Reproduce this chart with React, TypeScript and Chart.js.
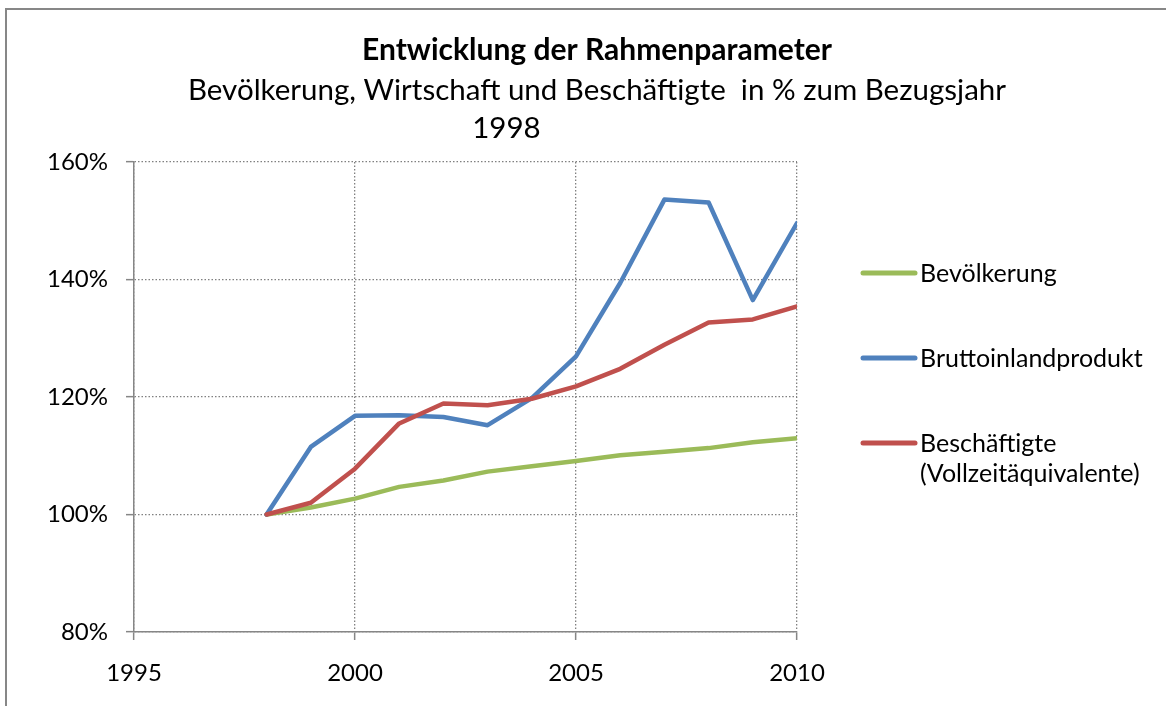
import { useEffect, useRef } from "react";
import { Chart, registerables } from "chart.js";

Chart.register(...registerables);

const FONT = "Lato";

const years = [1998, 1999, 2000, 2001, 2002, 2003, 2004, 2005, 2006, 2007, 2008, 2009, 2010];
const bevoelkerung = [100, 101.2, 102.7, 104.7, 105.8, 107.3, 108.2, 109.1, 110.1, 110.7, 111.3, 112.3, 113.0];
const bruttoinlandprodukt = [100, 111.5, 116.8, 116.9, 116.6, 115.2, 119.8, 126.9, 139.4, 153.6, 153.1, 136.5, 149.6];
const beschaeftigte = [100, 102.0, 107.8, 115.5, 118.9, 118.6, 119.7, 121.8, 124.8, 128.9, 132.7, 133.2, 135.4];

const seriesLabels = [
  ["Bevölkerung"],
  ["Bruttoinlandprodukt"],
  ["Beschäftigte", "(Vollzeitäquivalente)"],
];
const seriesColors = ["#9BBB59", "#4F81BD", "#C0504D"];

const titleText = "Entwicklung der Rahmenparameter";
const subtitleLines = [
  "Bevölkerung, Wirtschaft und Beschäftigte  in % zum Bezugsjahr",
  "1998" + "\u00a0".repeat(24),
];
const xTicks = { min: 1995, max: 2010, step: 5 };
const yTicks = { min: 80, max: 160, step: 20 };

const toPoints = (vals: number[]) => vals.map((v, i) => ({ x: years[i], y: v }));

export default function App() {
  const ref = useRef<HTMLCanvasElement | null>(null);

  useEffect(() => {
    if (!ref.current) return;
    const sideLegend = {
      id: "sideLegend",
      afterDraw(chart: any) {
        const ctx = chart.ctx;
        ctx.save();
        chart.data.datasets.forEach((ds: any, i: number) => {
          const y = 273 + i * 85;
          ctx.strokeStyle = ds.borderColor;
          ctx.lineWidth = 5;
          ctx.lineCap = "round";
          ctx.beginPath();
          ctx.moveTo(863, y);
          ctx.lineTo(915, y);
          ctx.stroke();
          ctx.fillStyle = "#000";
          ctx.font = `25px ${FONT}`;
          ctx.textBaseline = "middle";
          ctx.textAlign = "left";
          seriesLabels[i].forEach((t, j) => ctx.fillText(t, 920, y + 1 + j * 30));
        });
        ctx.restore();
      },
    };

    const gridCommon = {
      color: "#808080",
      lineWidth: 1.3,
      drawTicks: true,
      tickLength: 8,
      tickBorderDash: [],
      tickColor: "#868686",
      tickWidth: 1.5,
    };
    const borderCommon = { display: true, color: "#868686", width: 1.5, dash: [1.5, 2] };

    const chart = new Chart(ref.current, {
      type: "line",
      data: {
        datasets: [
          { label: seriesLabels[0].join(" "), data: toPoints(bevoelkerung), borderColor: seriesColors[0], order: 3 },
          { label: seriesLabels[1].join(" "), data: toPoints(bruttoinlandprodukt), borderColor: seriesColors[1], order: 2 },
          { label: seriesLabels[2].join(" "), data: toPoints(beschaeftigte), borderColor: seriesColors[2], order: 1 },
        ].map((d) => ({
          ...d,
          borderWidth: 4.5,
          pointRadius: 0,
          borderJoinStyle: "round" as const,
          borderCapStyle: "round" as const,
          tension: 0,
          fill: false,
        })),
      },
      options: {
        animation: false,
        responsive: false,
        devicePixelRatio: 1,
        layout: { padding: { left: 28, right: 0, top: 0, bottom: 0 } },
        plugins: {
          legend: { display: false },
          tooltip: { enabled: false },
          title: {
            display: true,
            text: titleText,
            color: "#000",
            font: { family: FONT, size: 30, weight: "bold", lineHeight: "40px" },
            padding: { top: 30, bottom: 0 },
          },
          subtitle: {
            display: true,
            text: subtitleLines,
            color: "#000",
            font: { family: FONT, size: 29.5, lineHeight: "38px" },
            padding: { top: 1, bottom: 15 },
          },
        },
        scales: {
          x: {
            type: "linear",
            min: xTicks.min,
            max: xTicks.max,
            afterFit(scale: any) {
              scale.height = 74;
            },
            ticks: {
              stepSize: xTicks.step,
              autoSkip: false,
              maxRotation: 0,
              padding: 19,
              color: "#000",
              font: { family: FONT, size: 24 },
              callback: (v: any) => String(v),
            },
            grid: gridCommon,
            border: borderCommon,
          },
          y: {
            type: "linear",
            min: yTicks.min,
            max: yTicks.max,
            afterFit(scale: any) {
              scale.width = 106;
            },
            ticks: {
              stepSize: yTicks.step,
              padding: 18,
              color: "#000",
              font: { family: FONT, size: 24 },
              callback: (v: any) => v + "%",
            },
            grid: gridCommon,
            border: borderCommon,
          },
          yRight: {
            type: "linear",
            position: "right",
            min: yTicks.min,
            max: yTicks.max,
            afterFit(scale: any) {
              scale.width = 369;
            },
            ticks: { display: false },
            grid: { display: false },
            border: { display: false },
          },
        },
      },
      plugins: [sideLegend],
    } as any);
    return () => chart.destroy();
  }, []);

  return (
    <div
      style={{
        position: "absolute",
        left: 0,
        top: 0,
        width: 1166,
        height: 706,
        overflow: "hidden",
        background: "#fff",
      }}
    >
      <canvas ref={ref} width={1166} height={706} style={{ position: "absolute", left: 0, top: 0 }} />
      <div
        style={{
          position: "absolute",
          left: 5,
          top: 8,
          width: 1300,
          height: 900,
          borderLeft: "2px solid #878787",
          borderTop: "2px solid #878787",
          pointerEvents: "none",
        }}
      />
    </div>
  );
}
